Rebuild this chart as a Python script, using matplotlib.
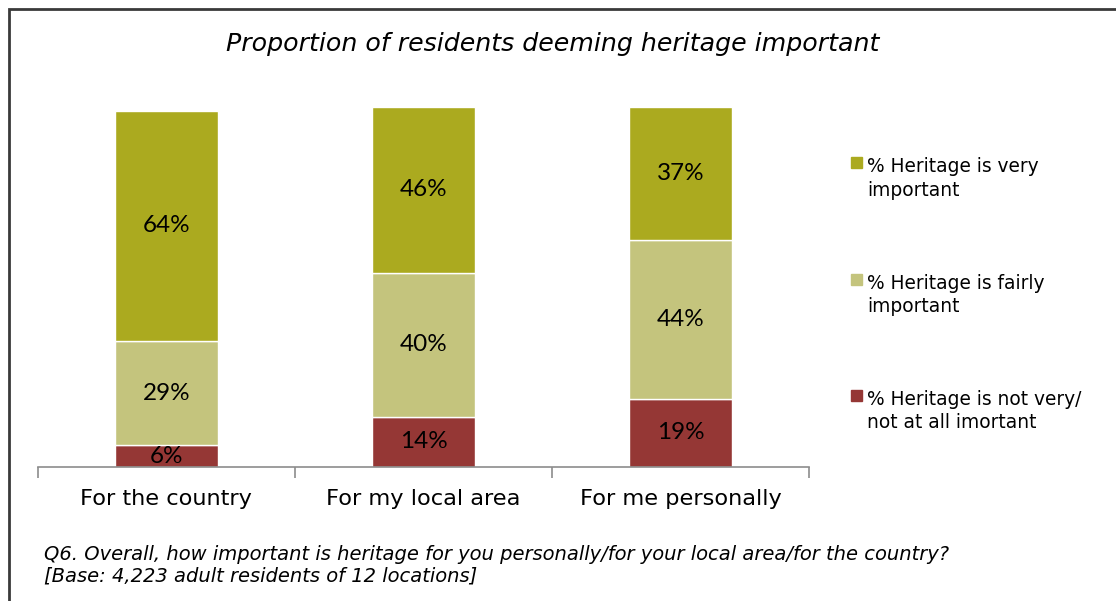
import matplotlib
matplotlib.use("Agg")
import matplotlib.pyplot as plt
from matplotlib.patches import Rectangle
import numpy as np

categories = ["For the country", "For my local area", "For me personally"]
not_important = [6, 14, 19]
fairly_important = [29, 40, 44]
very_important = [64, 46, 37]

series_labels = ["% Heritage is not very/\nnot at all imortant",
                 "% Heritage is fairly\nimportant",
                 "% Heritage is very\nimportant"]
series_colors = ["#953735", "#C4C47D", "#ABAA1F"]

title = "Proportion of residents deeming heritage important"
footnote = ("Q6. Overall, how important is heritage for you personally/for your local area/for the country?\n"
            "[Base: 4,223 adult residents of 12 locations]")

fig = plt.figure(figsize=(11.16, 6.01), dpi=100)
ax = fig.add_axes([38 / 1116, 1 - 467 / 601, 771 / 1116, 360 / 601])

x = np.arange(len(categories))
bottom = np.zeros(len(categories))
for vals, color in zip([not_important, fairly_important, very_important], series_colors):
    bars = ax.bar(x, vals, width=0.4, bottom=bottom, color=color,
                  edgecolor="white", linewidth=1)
    for b, v in zip(bars, vals):
        ax.text(b.get_x() + b.get_width() / 2, b.get_y() + b.get_height() / 2,
                f"{v}%", ha="center", va="center", fontsize=17.5,
                family="Lato", color="black")
    bottom += vals

ax.set_xlim(-0.5, 2.5)
ax.set_ylim(0, 100)
ax.set_yticks([])
for side in ["left", "right", "top"]:
    ax.spines[side].set_visible(False)
ax.spines["bottom"].set_color("#8c8c8c")
ax.spines["bottom"].set_linewidth(1.2)
ax.set_xticks(x)
ax.set_xticklabels(categories, fontsize=16.2, family="DejaVu Sans")
ax.tick_params(axis="x", which="major", length=0, pad=16)
ax.set_xticks([-0.5, 0.5, 1.5, 2.5], minor=True)
ax.tick_params(axis="x", which="minor", length=8, width=1.2, color="#8c8c8c")

fig.text(553 / 1116, 1 - 44 / 601, title, ha="center", va="center",
         fontsize=18.2, style="italic", family="DejaVu Sans")

# legend drawn by hand so the swatch sits beside the first line
legend_y = [403, 287, 170]
for lab, col, ly in zip(series_labels, series_colors, legend_y):
    fig.add_artist(Rectangle((851 / 1116, 1 - (ly - 2) / 601), 11 / 1116, 11 / 601,
                             transform=fig.transFigure, color=col))
    fig.text(867 / 1116, 1 - (ly - 13) / 601, lab, ha="left", va="top",
             fontsize=13.4, family="DejaVu Sans", linespacing=1.3)

fig.text(44 / 1116, 1 - 565 / 601, footnote, ha="left", va="center",
         fontsize=14, style="italic", family="DejaVu Sans", linespacing=1.2)

# frame around the chart area, running off the right and bottom edges
fig.add_artist(Rectangle((9 / 1116, -0.1), 1.2, 1 - 9 / 601 + 0.1,
                         transform=fig.transFigure, fill=False,
                         edgecolor="#3a3a3a", linewidth=2))

fig.savefig("out.png", dpi=100)
